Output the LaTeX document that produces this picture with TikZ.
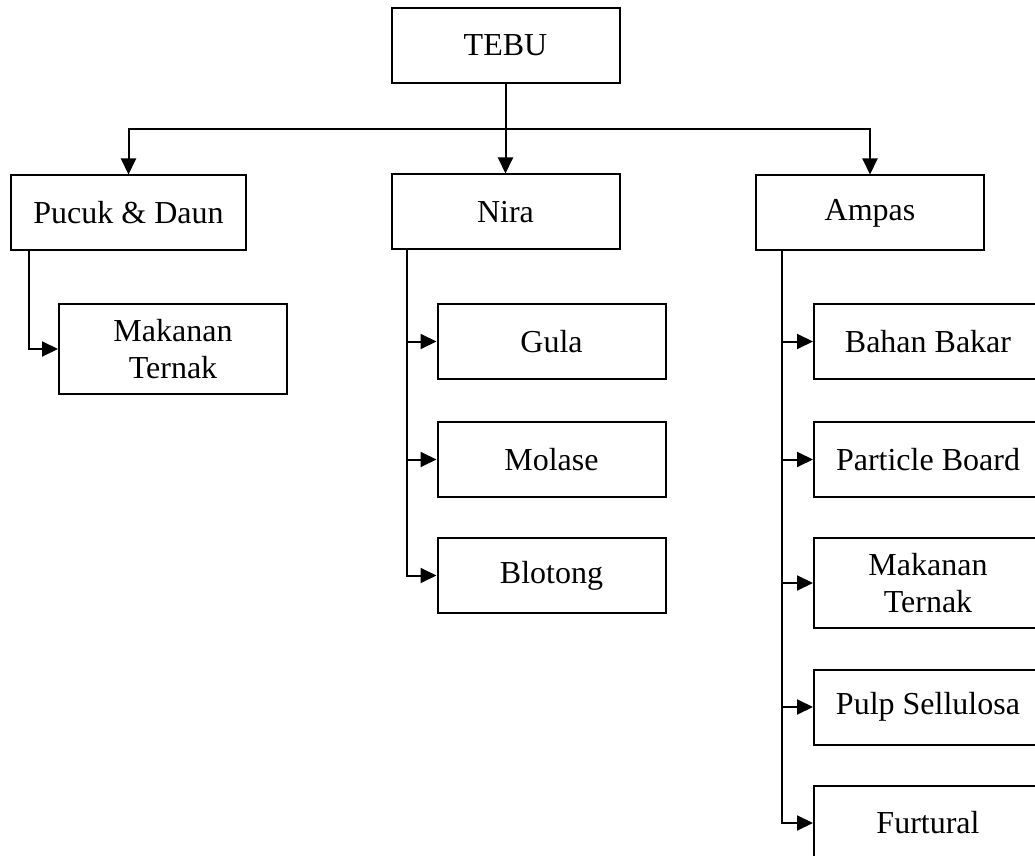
\documentclass[tikz,border=0pt]{standalone}
\usepackage{fontspec}
\setmainfont{Liberation Serif}
\usepackage{tikz}
\usetikzlibrary{shapes, arrows.meta}
\tikzset
  {
    kotak/.style  = {draw, line width=1pt, rectangle, inner sep=0pt, align=center,
                     minimum width=114pt, minimum height=37.5pt,
                     font=\fontsize{16}{18.5}\selectfont},
    kotakdua/.style = {kotak, minimum height=45pt},
    panah/.style  = {line width=1pt, -{Triangle[length=8pt,width=7.5pt]}},
    garis/.style  = {line width=1pt},
  }

\begin{document}
\begin{tikzpicture}[x=0.5pt, y=-0.5pt]
    \useasboundingbox (0,0) rectangle (1035,856);
    \clip (0,0) rectangle (1035,856);
    % pohon utama
    \node[kotak] (tebu) at (505.5,45.5) {TEBU};
    \node[kotak, minimum width=117.5pt] (pucuk) at (128.5,213) {Pucuk \& Daun};
    \node[kotak] (nira) at (505.5,212) {Nira};
    \node[kotak] (ampas) at (870,213) {Ampas};
    \coordinate (bus) at (505.5,129);
    \draw[panah] (tebu) -- (nira);
    \draw[panah] (bus) -| (pucuk);
    \draw[panah] (bus) -| (ampas);
    % cabang pucuk & daun
    \node[kotakdua] (pakan) at (173,349) {Makanan\\Ternak};
    \coordinate (pucukbatang) at (29,251);
    \draw[panah] (pucukbatang) |- (pakan);
    % cabang nira
    \node[kotak] (gula) at (551.5,341.5) {Gula};
    \node[kotak] (molase) at (551.5,459.5) {Molase};
    \node[kotak] (blotong) at (551.5,575.5) {Blotong};
    \coordinate (nirabatang) at (407,249);
    \foreach \anak in {gula, molase, blotong}
      \draw[panah] (nirabatang) |- (\anak);
    % cabang ampas
    \node[kotak] (bakar) at (928,341.5) {Bahan Bakar};
    \node[kotak] (particle) at (928,459.5) {Particle Board};
    \node[kotakdua] (pakanampas) at (928,583) {Makanan\\Ternak};
    \node[kotak] (pulp) at (928,707) {Pulp Sellulosa};
    \node[kotak] (furtural) at (928,823) {Furtural};
    \coordinate (ampasbatang) at (782,251);
    \foreach \anak in {bakar, particle, pakanampas, pulp, furtural}
      \draw[panah] (ampasbatang) |- (\anak);
\end{tikzpicture}
\end{document}
